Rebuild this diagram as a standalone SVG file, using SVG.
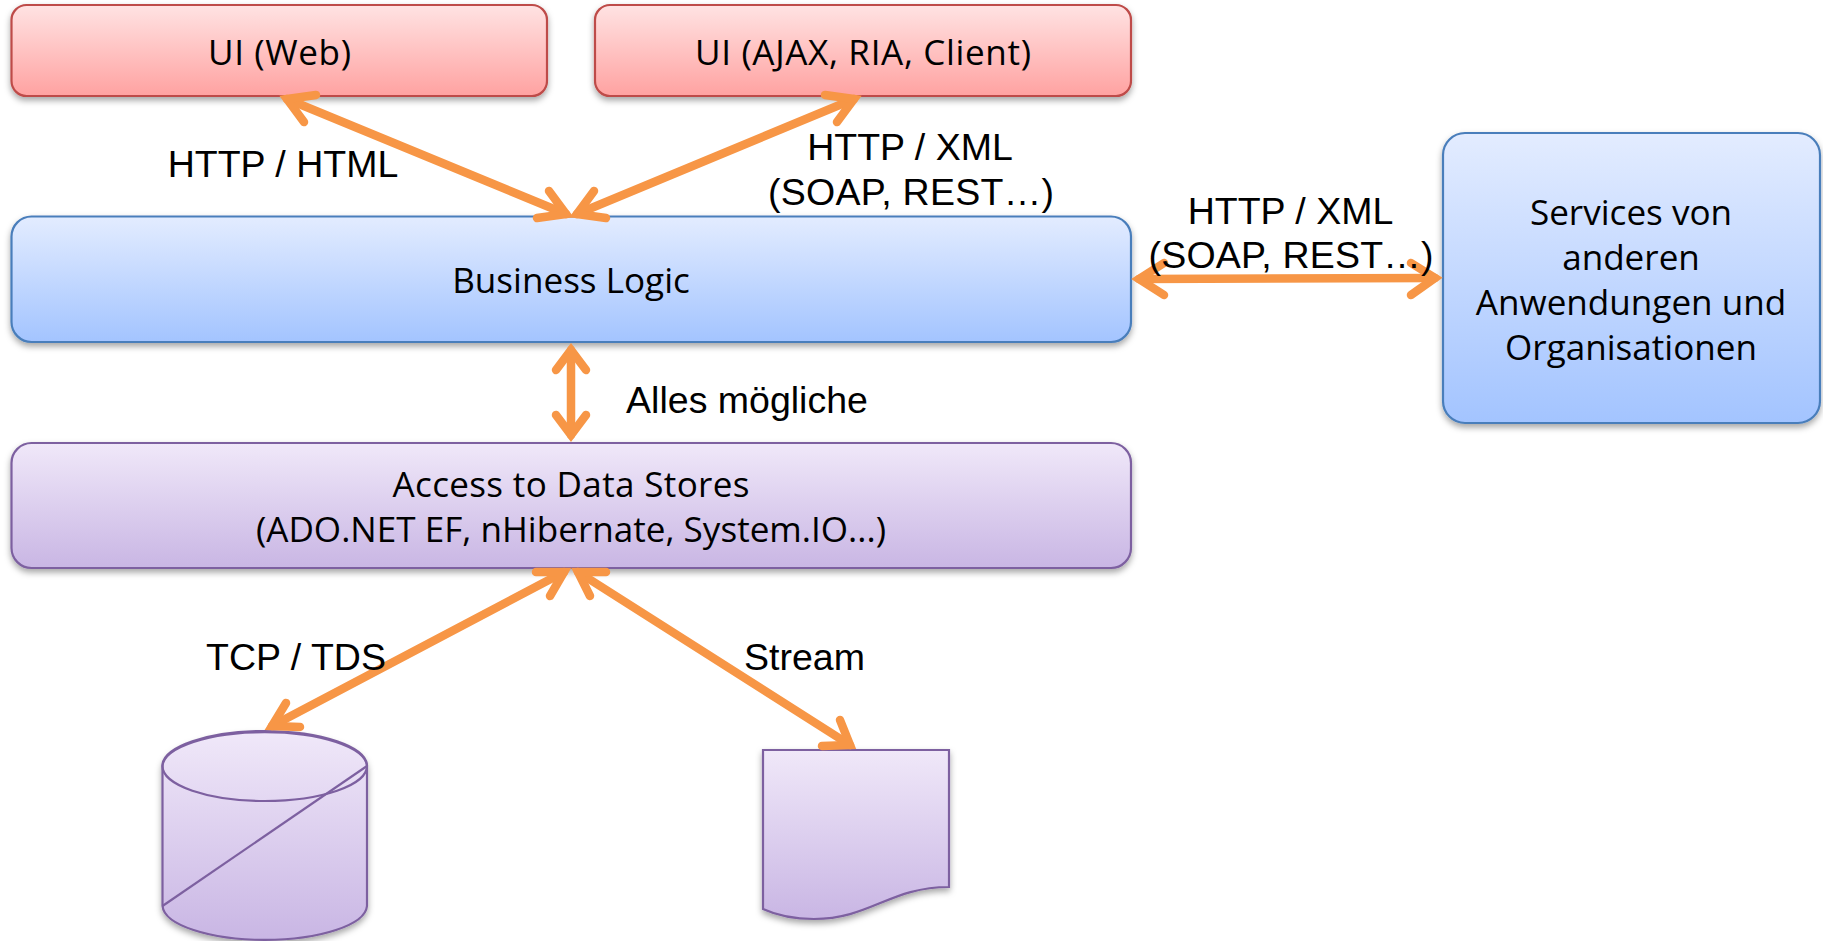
<svg xmlns="http://www.w3.org/2000/svg" width="1823" height="941" viewBox="0 0 1823 941">
<style>
.n{font-family:"Open Sans","Noto Sans","Liberation Sans",sans-serif;font-size:35.1px;fill:#000;text-anchor:middle}
.l{font-family:"Liberation Sans",Arial,sans-serif;font-size:37.5px;fill:#000;text-anchor:middle}
.red{fill:url(#gr);stroke:#BE4B48;stroke-width:2.2;filter:url(#sh)}
.blue{fill:url(#gb);stroke:#4A7EBB;stroke-width:2.2;filter:url(#sh)}
.pur{fill:url(#gp);stroke:#7D60A0;stroke-width:2.2;filter:url(#sh)}
.purs{fill:none;stroke:#7D60A0;stroke-width:2.2}
.c{fill:none;stroke:#F79646;stroke-width:8.5;stroke-linecap:round;stroke-linejoin:miter;stroke-miterlimit:10}
</style>
<defs>
<linearGradient id="gr" x1="0" y1="0" x2="0" y2="1"><stop offset="0" stop-color="#FFE3E3"/><stop offset="1" stop-color="#FFA2A1"/></linearGradient>
<linearGradient id="gb" x1="0" y1="0" x2="0" y2="1"><stop offset="0" stop-color="#E3ECFF"/><stop offset="1" stop-color="#A3C4FF"/></linearGradient>
<linearGradient id="gp" x1="0" y1="0" x2="0" y2="1"><stop offset="0" stop-color="#F0E8F9"/><stop offset="1" stop-color="#C9B6E4"/></linearGradient>
<filter id="sh" x="-5%" y="-10%" width="110%" height="125%"><feDropShadow dx="0" dy="3.5" stdDeviation="3" flood-color="#000" flood-opacity="0.35"/></filter>
</defs>
<g id="node-ui-web"><rect class="red" x="11.5" y="5" width="535.5" height="91" rx="15"/><text class="n" x="279.5" y="65" textLength="143">UI (Web)</text></g>
<g id="node-ui-ajax"><rect class="red" x="595" y="5" width="536" height="91" rx="15"/><text class="n" x="863" y="65" textLength="336">UI (AJAX, RIA, Client)</text></g>
<g id="node-business"><rect class="blue" x="11.5" y="216.5" width="1119.5" height="125.5" rx="20"/><text class="n" x="571" y="292.5">Business Logic</text></g>
<g id="node-access"><rect class="pur" x="11.5" y="443" width="1119.5" height="125" rx="20"/><text class="n" x="571" y="497" textLength="357">Access to Data Stores</text><text class="n" x="571" y="542">(ADO.NET EF, nHibernate, System.IO...)</text></g>
<g id="node-services"><rect class="blue" x="1443" y="133" width="377" height="290" rx="22"/><text class="n" x="1631" y="225">Services von</text><text class="n" x="1631" y="270">anderen</text><text class="n" x="1631" y="315">Anwendungen und</text><text class="n" x="1631" y="360">Organisationen</text></g>
<g id="node-database"><path class="pur" d="M162.5 766A102.3 35 0 0 1 367 766V906A102.3 35 0 0 1 162.5 906Z"/><ellipse class="purs" cx="264.7" cy="766" rx="102.3" ry="35"/><path class="purs" d="M367 766L162.5 906"/></g>
<g id="node-document"><path class="pur" d="M763 750H949V887C890 887 870 919 814 919C792 919 776 915 763 909Z"/></g>
<g id="connectors">
<path class="c" d="M287 99L566 214"/><path class="c" d="M316 95L287 99L304 122"/><path class="c" d="M537 218L566 214L549 191"/>
<path class="c" d="M854 99L577 214"/><path class="c" d="M825 95L854 99L837 122"/><path class="c" d="M606 218L577 214L594 191"/>
<path class="c" d="M571 350V435"/><path class="c" d="M556 370L571 350L586 370"/><path class="c" d="M556 415L571 435L586 415"/>
<path class="c" d="M1139 279L1435 278"/><path class="c" d="M1164 263L1139 279L1164 295"/><path class="c" d="M1411 263L1435 278L1411 295"/>
<path class="c" d="M564 572L272 726"/><path class="c" d="M536 572L564 572L550 596"/><path class="c" d="M300 727L272 726L286 703"/>
<path class="c" d="M578 572L850 745"/><path class="c" d="M606 572L578 572L590 596"/><path class="c" d="M822 746L850 745L840 720"/>
</g>
<g id="labels">
<text class="l" x="283" y="177">HTTP / HTML</text>
<text class="l" x="910" y="160">HTTP / XML</text>
<text class="l" x="911" y="205" textLength="286">(SOAP, REST…)</text>
<text class="l" x="1290.5" y="224">HTTP / XML</text>
<text class="l" x="1291" y="268" textLength="285">(SOAP, REST…)</text>
<text class="l" x="747" y="413">Alles mögliche</text>
<text class="l" x="296" y="669.5">TCP / TDS</text>
<text class="l" x="804.5" y="669.5">Stream</text>
</g>
</svg>
